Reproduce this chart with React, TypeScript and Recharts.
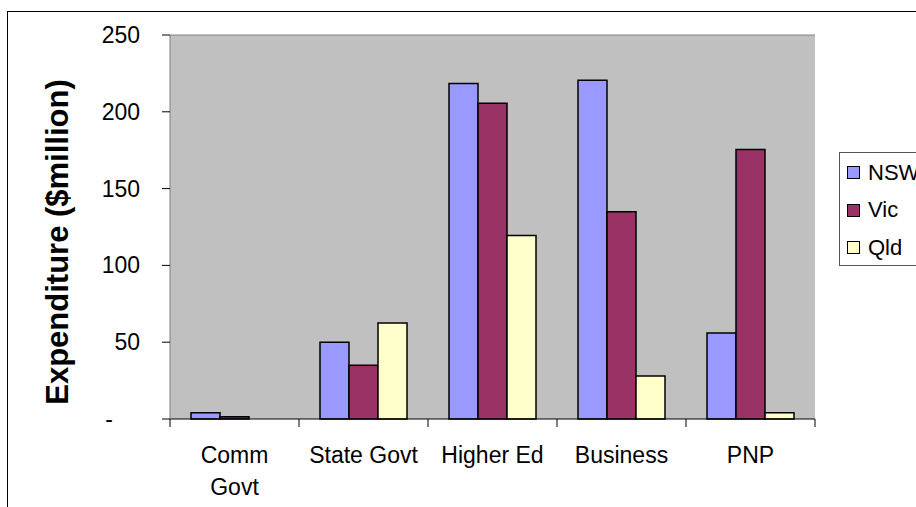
import React from "react";
import {
  BarChart,
  Bar,
  XAxis,
  YAxis,
  CartesianGrid,
  Legend,
  ReferenceLine,
} from "recharts";

// Expenditure by sector and state ($million)
const categories = ["Comm Govt", "State Govt", "Higher Ed", "Business", "PNP"];
const tickLines = [["Comm", "Govt"], ["State Govt"], ["Higher Ed"], ["Business"], ["PNP"]];
const seriesNames = ["NSW", "Vic", "Qld"];
const nsw = [4, 50, 218.5, 220.5, 56];
const vic = [1.5, 35, 205.5, 135, 175.5];
const qld = [0, 62.5, 119.5, 28, 4];
const yTicks = [0, 50, 100, 150, 200, 250];

const data = categories.map((name, i) => ({
  name,
  NSW: nsw[i],
  Vic: vic[i],
  Qld: qld[i],
}));

const FONT = "Arial, 'Liberation Sans', sans-serif";
const W = 916;
const H = 507;
const PLOT_LEFT = 170;
const PLOT_RIGHT = 815;
const PLOT_TOP = 35;
const PLOT_BOTTOM = 419;
const BAND = (PLOT_RIGHT - PLOT_LEFT) / categories.length;

const YTick = (props: any) => {
  const { x, y, payload } = props;
  const zero = payload.value === 0;
  return (
    <text
      x={zero ? x - 27 : x}
      y={y}
      dy={8}
      textAnchor="end"
      fontSize={23}
      fontFamily={FONT}
      fill="#000"
    >
      {zero ? "-" : payload.value}
    </text>
  );
};

const XTick = (props: any) => {
  const { x, index } = props;
  const lines = tickLines[index] || [props.payload.value];
  const left = x - BAND / 2;
  const last = index === categories.length - 1;
  return (
    <g>
      <line x1={left} x2={left} y1={PLOT_BOTTOM} y2={PLOT_BOTTOM + 8} stroke="#000" />
      {last && (
        <line
          x1={left + BAND}
          x2={left + BAND}
          y1={PLOT_BOTTOM}
          y2={PLOT_BOTTOM + 8}
          stroke="#000"
        />
      )}
      {lines.map((t: string, i: number) => (
        <text
          key={t}
          x={x}
          y={PLOT_BOTTOM + 44 + i * 32}
          textAnchor="middle"
          fontSize={23}
          fontFamily={FONT}
          fill="#000"
        >
          {t}
        </text>
      ))}
    </g>
  );
};

const YLabel = () => (
  <text
    x={68}
    y={242}
    transform="rotate(-90, 68, 242)"
    textAnchor="middle"
    fontSize={31}
    fontWeight="bold"
    fontFamily={FONT}
    fill="#000"
  >
    Expenditure ($million)
  </text>
);

const LegendBox = (props: any) => {
  const items = [...(props.payload || [])].sort(
    (a: any, b: any) => seriesNames.indexOf(a.value) - seriesNames.indexOf(b.value)
  );
  return (
    <div
      style={{
        width: 120,
        height: 114,
        border: "1px solid #555",
        background: "#fff",
        boxSizing: "border-box",
        paddingTop: 1,
        fontFamily: FONT,
        fontSize: 22,
      }}
    >
      {items.map((it: any) => (
        <div
          key={it.value}
          style={{ display: "flex", alignItems: "center", height: 37.5 }}
        >
          <span
            style={{
              display: "inline-block",
              width: 11,
              height: 11,
              marginLeft: 7,
              marginRight: 8,
              border: "1.5px solid #000",
              background: it.color,
            }}
          />
          <span>{it.value}</span>
        </div>
      ))}
    </div>
  );
};

export default function App() {
  return (
    <div
      style={{
        position: "absolute",
        left: 0,
        top: 0,
        width: W,
        height: H,
        overflow: "hidden",
        background: "#fff",
      }}
    >
      <div
        style={{
          position: "absolute",
          left: 7,
          top: 11,
          width: 1000,
          height: 600,
          border: "1px solid #000",
        }}
      />
      <BarChart
        width={W}
        height={H}
        data={data}
        margin={{ top: PLOT_TOP, right: W - PLOT_RIGHT, bottom: 0, left: 0 }}
        barCategoryGap={21}
        barGap={0}
      >
        <CartesianGrid
          vertical={false}
          horizontalValues={[50, 100, 150, 200]}
          stroke="#000"
          fill="#C0C0C0"
          fillOpacity={1}
        />
        <XAxis
          dataKey="name"
          height={H - PLOT_BOTTOM}
          interval={0}
          tickLine={false}
          axisLine={{ stroke: "#000" }}
          tick={<XTick />}
        />
        <YAxis
          yAxisId="left"
          width={PLOT_LEFT}
          domain={[0, 250]}
          ticks={yTicks}
          tickSize={8}
          tickMargin={22}
          tickLine={{ stroke: "#000" }}
          axisLine={{ stroke: "#808080" }}
          tick={<YTick />}
          label={<YLabel />}
        />
        <YAxis
          yAxisId="right"
          orientation="right"
          width={0}
          domain={[0, 250]}
          tick={false}
          tickLine={false}
          axisLine={{ stroke: "#808080" }}
        />
        <ReferenceLine yAxisId="left" y={250} stroke="#808080" />
        <Legend
          layout="vertical"
          verticalAlign="middle"
          align="center"
          content={<LegendBox />}
          wrapperStyle={{ left: 839, top: 152, width: 120 }}
        />
        <Bar yAxisId="left" dataKey="NSW" fill="#9999FF" stroke="#000" strokeWidth={1.5} isAnimationActive={false} />
        <Bar yAxisId="left" dataKey="Vic" fill="#993366" stroke="#000" strokeWidth={1.5} isAnimationActive={false} />
        <Bar yAxisId="left" dataKey="Qld" fill="#FFFFCC" stroke="#000" strokeWidth={1.5} isAnimationActive={false} />
      </BarChart>
    </div>
  );
}
